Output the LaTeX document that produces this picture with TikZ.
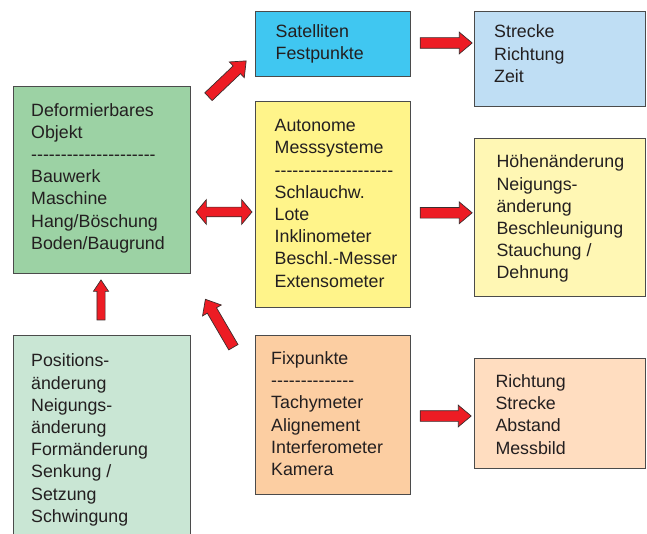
\documentclass[tikz,border=0pt]{standalone}
\usepackage{fontspec}
\setmainfont{Liberation Sans}
\usetikzlibrary{shapes.arrows}
\definecolor{cA}{RGB}{156,210,164}
\definecolor{cB}{RGB}{64,199,241}
\definecolor{cC}{RGB}{191,222,244}
\definecolor{cD}{RGB}{255,244,138}
\definecolor{cE}{RGB}{255,247,180}
\definecolor{cF}{RGB}{201,230,212}
\definecolor{cG}{RGB}{252,206,162}
\definecolor{cH}{RGB}{255,221,192}
\definecolor{arrred}{RGB}{237,28,36}
\definecolor{arrline}{RGB}{60,45,45}
\definecolor{boxline}{RGB}{75,75,75}
\definecolor{txtcol}{RGB}{35,31,32}
\ExplSyntaxOn
\cs_new:Npn \dashrow #1 {\prg_replicate:nn{#1}{{-}}}
\ExplSyntaxOff
\newcommand\fstrut{\rule{0pt}{14pt}}
\begin{document}
\begin{tikzpicture}[x=1pt,y=-1pt,
  box/.style={draw=boxline, line width=0.9pt, rectangle, inner sep=0pt, outer sep=0pt, anchor=north west},
  txt/.style={anchor=north west, inner sep=0pt, align=left, font=\fontsize{17.8}{22.2}\selectfont, text=txtcol},
  blk/.style={single arrow, draw=arrline, fill=arrred, line width=0.7pt, inner xsep=0pt, inner ysep=5pt,
    minimum width=0pt, single arrow head extend=5.5pt, single arrow tip angle=80, anchor=center},
  blksmall/.style={blk, inner ysep=3.75pt, single arrow head extend=3.5pt, single arrow tip angle=67},
  dblk/.style={double arrow, draw=arrline, fill=arrred, line width=0.7pt, inner xsep=0pt, inner ysep=4.5pt,
    minimum width=0pt, double arrow head extend=7.5pt, double arrow tip angle=100, anchor=center}
]
\useasboundingbox (0,0) rectangle (647,534);
\clip (0,0) rectangle (647,534);
% boxes
\node[box, fill=cA, minimum width=177pt, minimum height=187pt] (A) at (13,86) {};
\node[box, fill=cB, minimum width=155.5pt, minimum height=65pt] (B) at (255.3,11) {};
\node[box, fill=cC, minimum width=171.5pt, minimum height=95pt] (C) at (474,11) {};
\node[box, fill=cD, minimum width=155.5pt, minimum height=206pt] (D) at (255.3,101.6) {};
\node[box, fill=cE, minimum width=171.5pt, minimum height=158.5pt] (E) at (474,138.3) {};
\node[box, fill=cF, minimum width=177pt, minimum height=215pt] (F) at (13,335) {};
\node[box, fill=cG, minimum width=155.5pt, minimum height=159pt] (G) at (255.3,335) {};
\node[box, fill=cH, minimum width=171.5pt, minimum height=110pt] (H) at (474,358.3) {};
% texts
\node[txt] (tA) at (31,102) {\fstrut Deformierbares\\Objekt\\\dashrow{21}\\Bauwerk\\Maschine\\Hang/Böschung\\Boden/Baugrund};
\node[txt] (tB) at (275.5,23.5) {\fstrut Satelliten\\Festpunkte};
\node[txt] (tC) at (494,23.7) {\fstrut Strecke\\Richtung\\Zeit};
\node[txt] (tD) at (274.5,117.5) {\fstrut Autonome\\Messsysteme\\\dashrow{20}\\Schlauchw.\\Lote\\Inklinometer\\Beschl.-Messer\\Extensometer};
\node[txt] (tE) at (496.3,153.7) {\fstrut Höhenänderung\\Neigungs-\\änderung\\Beschleunigung\\Stauchung /\\Dehnung};
\node[txt] (tF) at (31,352.7) {\fstrut Positions-\\änderung\\Neigungs-\\änderung\\Formänderung\\Senkung /\\Setzung\\Schwingung};
\node[txt] (tG) at (271,350.3) {\fstrut Fixpunkte\\\dashrow{14}\\Tachymeter\\Alignement\\Interferometer\\Kamera};
\node[txt] (tH) at (495.3,373.3) {\fstrut Richtung\\Strecke\\Abstand\\Messbild};
% block arrows
\node[blk, minimum height=52pt] (arBC) at (443,43) {};
\node[blk, minimum height=52pt] (arDE) at (443,212.8) {};
\node[blk, minimum height=51pt] (arGH) at (442.5,416) {};
\node[dblk, minimum height=56pt] (arAD) at (224,212) {};
\node[blksmall, minimum height=40pt, rotate=90] (arFA) at (101,303) {};
\node[blk, minimum height=52pt, rotate=43.5] (arAB) at (225,81) {};
\node[blk, minimum height=55.5pt, rotate=120.3] (arGA) at (221,326) {};
\end{tikzpicture}
\end{document}
